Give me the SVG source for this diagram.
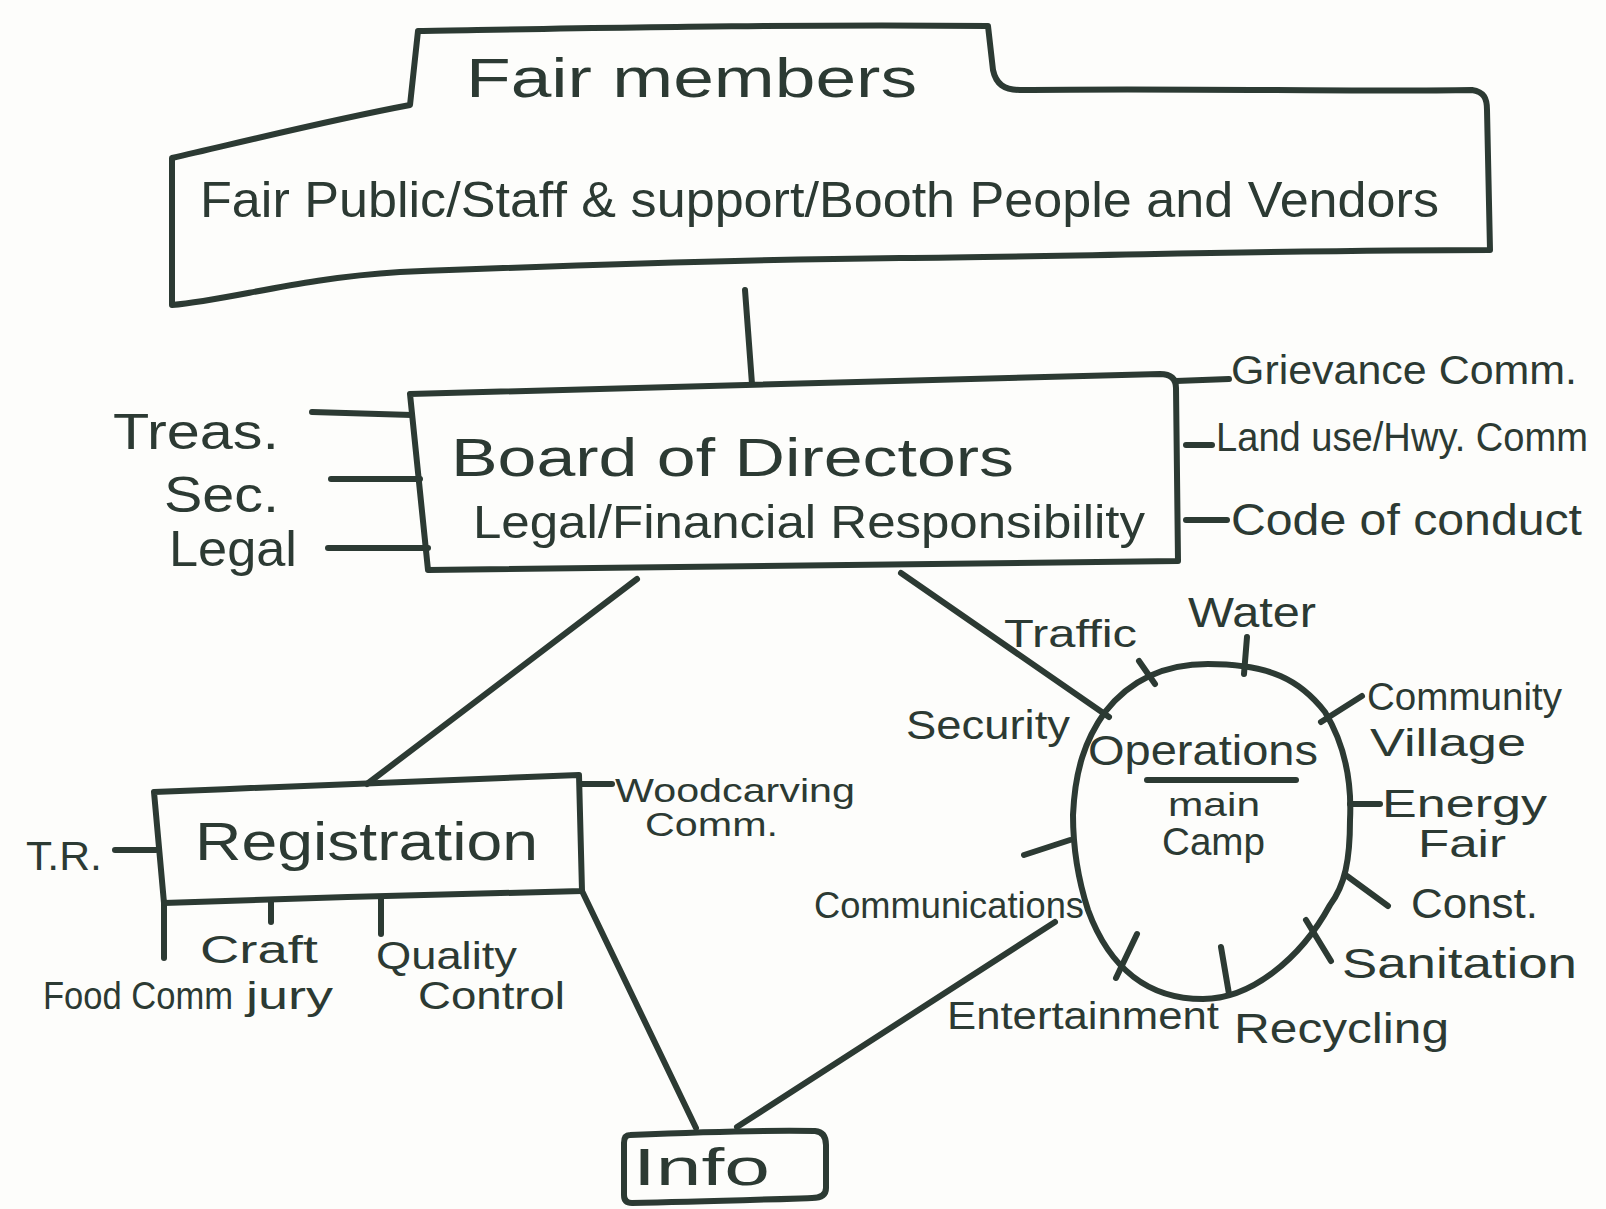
<svg xmlns="http://www.w3.org/2000/svg" width="1606" height="1209" viewBox="0 0 1606 1209">
<style>
.s{fill:none;stroke:#2c3a33;stroke-width:6;stroke-linecap:round;stroke-linejoin:round}
.t{fill:#2c3a33;font-family:"Liberation Sans","DejaVu Sans",sans-serif}
</style>
<rect width="1606" height="1209" fill="#fdfdfb"/>
<g id="connectors">
<path class="s" d="M745 290 L752 384"/>
<path class="s" d="M637 579 L367 784"/>
<path class="s" d="M901 573 L1109 717"/>
<path class="s" d="M582 891 L696 1128"/>
<path class="s" d="M1055 922 L737 1127"/>
<path class="s" d="M312 412 L412 415"/>
<path class="s" d="M331 479 L420 479"/>
<path class="s" d="M328 548 L428 548"/>
<path class="s" d="M1176 381 L1229 379"/>
<path class="s" d="M1186 445 L1212 445"/>
<path class="s" d="M1186 520 L1227 520"/>
<path class="s" d="M115 850 L156 850"/>
<path class="s" d="M581 784 L612 784"/>
<path class="s" d="M164 903 L164 958"/>
<path class="s" d="M271 901 L271 922"/>
<path class="s" d="M381 899 L381 934"/>
<path class="s" d="M1139 661 L1155 684"/>
<path class="s" d="M1247 637 L1244 674"/>
<path class="s" d="M1321 722 L1362 696"/>
<path class="s" d="M1350 804 L1380 804"/>
<path class="s" d="M1347 876 L1388 906"/>
<path class="s" d="M1306 920 L1331 961"/>
<path class="s" d="M1221 947 L1229 994"/>
<path class="s" d="M1137 934 L1116 978"/>
<path class="s" d="M1024 855 L1070 840"/>
</g>
<g id="fair-members">
<path class="s" d="M418 31 C600 28 800 24 988 26 L993 70 C996 84 1004 90 1020 90 C1200 88 1350 92 1472 90 C1484 92 1487 98 1487 110 L1490 250 C1300 250 1100 256 900 258 C700 260 500 268 400 272 C300 278 230 300 172 305 L172 158 C250 140 330 120 410 105 Z"/>
<text class="t" x="466" y="97" font-size="56" textLength="451" lengthAdjust="spacingAndGlyphs">Fair members</text>
<text class="t" x="200" y="217" font-size="50" textLength="1239" lengthAdjust="spacingAndGlyphs">Fair Public/Staff &amp; support/Booth People and Vendors</text>
</g>
<g id="board">
<path class="s" d="M410 394 C650 388 900 380 1160 374 Q1176 374 1176 388 L1178 561 C900 563 650 566 428 570 Z"/>
<text class="t" x="451" y="476" font-size="54" textLength="563" lengthAdjust="spacingAndGlyphs">Board of Directors</text>
<text class="t" x="473" y="538" font-size="46" textLength="672" lengthAdjust="spacingAndGlyphs">Legal/Financial Responsibility</text>
</g>
<g id="treas"><text class="t" x="113" y="449" font-size="50" textLength="166" lengthAdjust="spacingAndGlyphs">Treas.</text></g>
<g id="sec"><text class="t" x="164" y="512" font-size="50" textLength="115" lengthAdjust="spacingAndGlyphs">Sec.</text></g>
<g id="legal"><text class="t" x="169" y="566" font-size="50" textLength="128" lengthAdjust="spacingAndGlyphs">Legal</text></g>
<g id="grievance"><text class="t" x="1231" y="384" font-size="40" textLength="346" lengthAdjust="spacingAndGlyphs">Grievance Comm.</text></g>
<g id="landuse"><text class="t" x="1216" y="451" font-size="40" textLength="372" lengthAdjust="spacingAndGlyphs">Land use/Hwy. Comm</text></g>
<g id="conduct"><text class="t" x="1231" y="535" font-size="44" textLength="351" lengthAdjust="spacingAndGlyphs">Code of conduct</text></g>
<g id="registration">
<path class="s" d="M154 792 C300 786 450 780 579 775 L582 891 C450 894 300 898 164 903 Z"/>
<text class="t" x="195" y="860" font-size="54" textLength="343" lengthAdjust="spacingAndGlyphs">Registration</text>
</g>
<g id="tr"><text class="t" x="26" y="870" font-size="40" textLength="76" lengthAdjust="spacingAndGlyphs">T.R.</text></g>
<g id="woodcarving">
<text class="t" x="615" y="802" font-size="33" textLength="240" lengthAdjust="spacingAndGlyphs">Woodcarving</text>
<text class="t" x="645" y="836" font-size="33" textLength="133" lengthAdjust="spacingAndGlyphs">Comm.</text>
</g>
<g id="food"><text class="t" x="43" y="1009" font-size="38" textLength="190" lengthAdjust="spacingAndGlyphs">Food Comm</text></g>
<g id="craft">
<text class="t" x="200" y="963" font-size="38" textLength="118" lengthAdjust="spacingAndGlyphs">Craft</text>
<text class="t" x="246" y="1009" font-size="38" textLength="87" lengthAdjust="spacingAndGlyphs">jury</text>
</g>
<g id="quality">
<text class="t" x="376" y="969" font-size="38" textLength="141" lengthAdjust="spacingAndGlyphs">Quality</text>
<text class="t" x="418" y="1009" font-size="38" textLength="147" lengthAdjust="spacingAndGlyphs">Control</text>
</g>
<g id="info">
<path class="s" d="M630 1135 C700 1132 760 1130 815 1131 Q826 1132 826 1145 L826 1188 Q826 1198 812 1198 C750 1200 690 1202 632 1203 Q624 1203 624 1195 L624 1143 Q624 1135 630 1135 Z"/>
<text class="t" x="633" y="1185" font-size="52" textLength="137" lengthAdjust="spacingAndGlyphs">Info</text>
</g>
<g id="operations">
<path class="s" d="M1208 664 C1270 664 1300 680 1325 712 C1345 745 1352 780 1350 820 C1350 860 1345 885 1330 905 C1300 960 1250 999 1203 999 C1150 999 1110 970 1088 910 C1075 870 1073 840 1073 815 C1075 770 1085 740 1105 712 C1130 680 1165 664 1208 664 Z"/>
<text class="t" x="1088" y="765" font-size="42" textLength="230" lengthAdjust="spacingAndGlyphs">Operations</text>
<path class="s" d="M1147 780 L1296 780"/>
<text class="t" x="1168" y="816" font-size="34" textLength="92" lengthAdjust="spacingAndGlyphs">main</text>
<text class="t" x="1162" y="855" font-size="38" textLength="103" lengthAdjust="spacingAndGlyphs">Camp</text>
</g>
<g id="traffic"><text class="t" x="1004" y="647" font-size="38" textLength="133" lengthAdjust="spacingAndGlyphs">Traffic</text></g>
<g id="water"><text class="t" x="1188" y="627" font-size="42" textLength="128" lengthAdjust="spacingAndGlyphs">Water</text></g>
<g id="community">
<text class="t" x="1367" y="710" font-size="38" textLength="195" lengthAdjust="spacingAndGlyphs">Community</text>
<text class="t" x="1370" y="756" font-size="38" textLength="156" lengthAdjust="spacingAndGlyphs">Village</text>
</g>
<g id="energy">
<text class="t" x="1382" y="817" font-size="38" textLength="165" lengthAdjust="spacingAndGlyphs">Energy</text>
<text class="t" x="1418" y="857" font-size="38" textLength="88" lengthAdjust="spacingAndGlyphs">Fair</text>
</g>
<g id="const"><text class="t" x="1411" y="918" font-size="42" textLength="127" lengthAdjust="spacingAndGlyphs">Const.</text></g>
<g id="sanitation"><text class="t" x="1342" y="978" font-size="42" textLength="235" lengthAdjust="spacingAndGlyphs">Sanitation</text></g>
<g id="recycling"><text class="t" x="1234" y="1043" font-size="42" textLength="215" lengthAdjust="spacingAndGlyphs">Recycling</text></g>
<g id="entertainment"><text class="t" x="947" y="1029" font-size="38" textLength="272" lengthAdjust="spacingAndGlyphs">Entertainment</text></g>
<g id="communications"><text class="t" x="814" y="918" font-size="36" textLength="270" lengthAdjust="spacingAndGlyphs">Communications</text></g>
<g id="security"><text class="t" x="906" y="739" font-size="40" textLength="164" lengthAdjust="spacingAndGlyphs">Security</text></g>
</svg>
